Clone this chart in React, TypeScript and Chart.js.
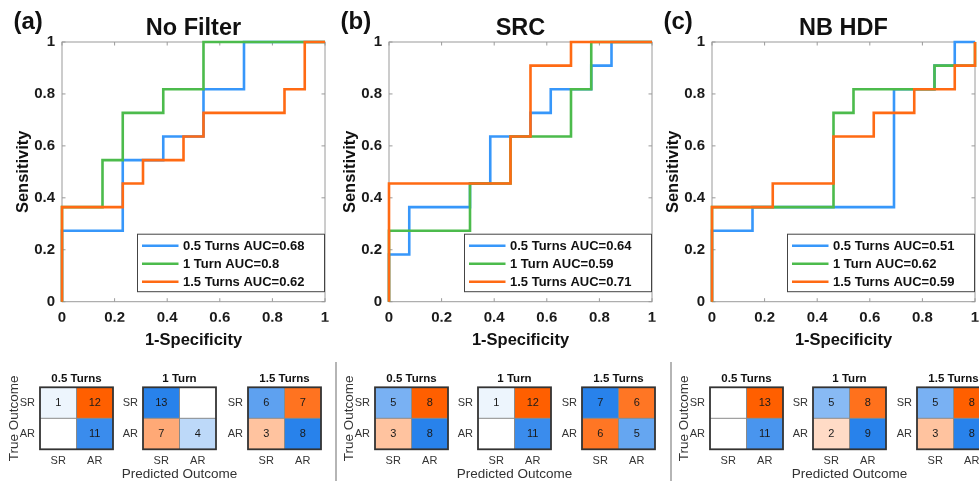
import React, { useEffect, useRef } from 'react';
import { Chart, registerables } from 'chart.js';

Chart.register(...registerables);

const FONT = '"Liberation Sans", Arial, Helvetica, sans-serif';

// ---------- labels ----------
const PANEL_TAGS = ['(a)', '(b)', '(c)'];
const PANEL_TITLES = ['No Filter', 'SRC', 'NB HDF'];
const TURN_LABELS = ['0.5 Turns', '1 Turn', '1.5 Turns'];
const X_TITLE = '1-Specificity';
const Y_TITLE = 'Sensitivity';
const AXIS_TICKS = [0, 0.2, 0.4, 0.6, 0.8, 1];
const ROW_LABELS = ['SR', 'AR'];
const COL_LABELS = ['SR', 'AR'];
const CM_Y_TITLE = 'True Outcome';
const CM_X_TITLE = 'Predicted Outcome';
const SERIES_COLORS = ['#3797FA', '#4CBB4C', '#FF6A13'];

// ---------- AUC values ----------
const aucNoFilter = [0.68, 0.8, 0.62];
const aucSRC = [0.64, 0.59, 0.71];
const aucNBHDF = [0.51, 0.62, 0.59];

// ---------- ROC curves: No Filter ----------
const nf05Fpr = [0, 0, 0.231, 0.231, 0.385, 0.385, 0.538, 0.538, 0.692, 0.692, 1];
const nf05Tpr = [0, 0.273, 0.273, 0.545, 0.545, 0.636, 0.636, 0.818, 0.818, 1, 1];
const nf1Fpr = [0, 0, 0.154, 0.154, 0.231, 0.231, 0.385, 0.385, 0.538, 0.538, 1];
const nf1Tpr = [0, 0.364, 0.364, 0.545, 0.545, 0.727, 0.727, 0.818, 0.818, 1, 1];
const nf15Fpr = [0, 0, 0.231, 0.231, 0.308, 0.308, 0.462, 0.462, 0.538, 0.538, 0.846, 0.846, 0.923, 0.923, 1];
const nf15Tpr = [0, 0.364, 0.364, 0.455, 0.455, 0.545, 0.545, 0.636, 0.636, 0.727, 0.727, 0.818, 0.818, 1, 1];

// ---------- ROC curves: SRC ----------
const src05Fpr = [0, 0, 0.077, 0.077, 0.308, 0.308, 0.385, 0.385, 0.538, 0.538, 0.615, 0.615, 0.769, 0.769, 0.846, 0.846, 1];
const src05Tpr = [0, 0.182, 0.182, 0.364, 0.364, 0.455, 0.455, 0.636, 0.636, 0.727, 0.727, 0.818, 0.818, 0.909, 0.909, 1, 1];
const src1Fpr = [0, 0, 0.308, 0.308, 0.462, 0.462, 0.692, 0.692, 0.769, 0.769, 1];
const src1Tpr = [0, 0.273, 0.273, 0.455, 0.455, 0.636, 0.636, 0.818, 0.818, 1, 1];
const src15Fpr = [0, 0, 0.462, 0.462, 0.538, 0.538, 0.692, 0.692, 1];
const src15Tpr = [0, 0.455, 0.455, 0.636, 0.636, 0.909, 0.909, 1, 1];

// ---------- ROC curves: NB HDF ----------
const nb05Fpr = [0, 0, 0.154, 0.154, 0.692, 0.692, 0.846, 0.846, 0.923, 0.923, 1];
const nb05Tpr = [0, 0.273, 0.273, 0.364, 0.364, 0.818, 0.818, 0.909, 0.909, 1, 1];
const nb1Fpr = [0, 0, 0.462, 0.462, 0.538, 0.538, 0.846, 0.846, 1, 1];
const nb1Tpr = [0, 0.364, 0.364, 0.727, 0.727, 0.818, 0.818, 0.909, 0.909, 1];
const nb15Fpr = [0, 0, 0.231, 0.231, 0.462, 0.462, 0.615, 0.615, 0.769, 0.769, 0.923, 0.923, 1, 1];
const nb15Tpr = [0, 0.364, 0.364, 0.455, 0.455, 0.636, 0.636, 0.727, 0.727, 0.818, 0.818, 0.909, 0.909, 1];

// ---------- confusion matrices [row SR, row AR] x [pred SR, pred AR] ----------
const cmNoFilter05 = [[1, 12], [0, 11]];
const cmNoFilter1 = [[13, 0], [7, 4]];
const cmNoFilter15 = [[6, 7], [3, 8]];
const cmSRC05 = [[5, 8], [3, 8]];
const cmSRC1 = [[1, 12], [0, 11]];
const cmSRC15 = [[7, 6], [6, 5]];
const cmNBHDF05 = [[0, 13], [0, 11]];
const cmNBHDF1 = [[5, 8], [2, 9]];
const cmNBHDF15 = [[5, 8], [3, 8]];

const ROC_PANELS = [
  { auc: aucNoFilter, fpr: [nf05Fpr, nf1Fpr, nf15Fpr], tpr: [nf05Tpr, nf1Tpr, nf15Tpr] },
  { auc: aucSRC, fpr: [src05Fpr, src1Fpr, src15Fpr], tpr: [src05Tpr, src1Tpr, src15Tpr] },
  { auc: aucNBHDF, fpr: [nb05Fpr, nb1Fpr, nb15Fpr], tpr: [nb05Tpr, nb1Tpr, nb15Tpr] },
];
const CM_PANELS = [
  [cmNoFilter05, cmNoFilter1, cmNoFilter15],
  [cmSRC05, cmSRC1, cmSRC15],
  [cmNBHDF05, cmNBHDF1, cmNBHDF15],
];

// ---------- layout ----------
const PLOT_LEFTS = [62, 389, 712];
const PLOT_W = 263;
const ROC_CANVAS_W = 345;
const ROC_CANVAS_H = 360;
const CM_BOX_LEFTS = [[40, 143, 248], [375, 478, 582], [710, 813, 917]];
const CM_W = 73;
const CM_CANVAS_W = 150;
const CM_CANVAS_H = 113;
const CM_TOP = 368;

const rocDecor = {
  id: 'rocDecor',
  beforeDatasetsDraw(chart: any) {
    const { ctx, chartArea: a, scales } = chart;
    ctx.save();
    ctx.strokeStyle = '#9a9a9a';
    ctx.lineWidth = 1;
    ctx.strokeRect(a.left, a.top, a.right - a.left, a.bottom - a.top);
    const tl = 3.5;
    ctx.beginPath();
    for (const v of AXIS_TICKS) {
      const px = scales.x.getPixelForValue(v);
      ctx.moveTo(px, a.bottom); ctx.lineTo(px, a.bottom - tl);
      ctx.moveTo(px, a.top); ctx.lineTo(px, a.top + tl);
      const py = scales.y.getPixelForValue(v);
      ctx.moveTo(a.left, py); ctx.lineTo(a.left + tl, py);
      ctx.moveTo(a.right, py); ctx.lineTo(a.right - tl, py);
    }
    ctx.stroke();
    ctx.restore();
  },
  afterDatasetsDraw(chart: any) {
    const { ctx, chartArea: a } = chart;
    const w = 188;
    const h = 58.5;
    const right = a.right;
    const bottom = a.bottom - 9.5;
    const left = right - w;
    const top = bottom - h;
    ctx.save();
    ctx.fillStyle = '#ffffff';
    ctx.fillRect(left, top, w, h);
    ctx.strokeStyle = '#444444';
    ctx.lineWidth = 1;
    ctx.strokeRect(left + 0.5, top + 0.5, w - 1, h - 1);
    chart.data.datasets.forEach((ds: any, i: number) => {
      const y = top + 12 + i * 18;
      ctx.strokeStyle = ds.borderColor;
      ctx.lineWidth = 2.6;
      ctx.beginPath();
      ctx.moveTo(left + 5, y);
      ctx.lineTo(left + 41.5, y);
      ctx.stroke();
      ctx.fillStyle = '#111111';
      ctx.font = `bold 13px ${FONT}`;
      ctx.textAlign = 'left';
      ctx.textBaseline = 'middle';
      ctx.fillText(ds.label, left + 46, y + 0.5);
    });
    ctx.restore();
  },
  afterDraw(chart: any, _args: any, opts: any) {
    const { ctx, chartArea: a } = chart;
    const cx = (a.left + a.right) / 2;
    const cy = (a.top + a.bottom) / 2;
    ctx.save();
    ctx.fillStyle = '#111111';
    ctx.textBaseline = 'alphabetic';
    ctx.font = `bold 24px ${FONT}`;
    ctx.textAlign = 'left';
    ctx.fillText(opts.tag, a.left - 48.5, 29);
    ctx.font = `bold 23.5px ${FONT}`;
    ctx.textAlign = 'center';
    ctx.fillText(opts.title, cx, 35);
    ctx.font = `bold 16.5px ${FONT}`;
    ctx.fillText(opts.xTitle, cx, 345);
    ctx.translate(a.left - 34, cy);
    ctx.rotate(-Math.PI / 2);
    ctx.fillText(opts.yTitle, 0, 0);
    ctx.restore();
  },
};

function RocPanel({ idx }: { idx: number }) {
  const ref = useRef<HTMLCanvasElement>(null);
  useEffect(() => {
    const panel = ROC_PANELS[idx];
    const tickFont = { family: FONT, size: 15, weight: 'bold' as const };
    const chart = new Chart(ref.current as HTMLCanvasElement, {
      type: 'line',
      data: {
        datasets: panel.fpr.map((fpr, i) => ({
          label: `${TURN_LABELS[i]} AUC=${panel.auc[i]}`,
          data: fpr.map((x, j) => ({ x, y: panel.tpr[i][j] })),
          borderColor: SERIES_COLORS[i],
          backgroundColor: SERIES_COLORS[i],
          borderWidth: 2.6,
          pointRadius: 0,
          tension: 0,
          fill: false,
          clip: false as any,
          order: 2 - i,
        })),
      },
      options: {
        responsive: false,
        animation: false,
        events: [],
        layout: { padding: { left: 0, top: 42, right: ROC_CANVAS_W - 62 - PLOT_W, bottom: ROC_CANVAS_H - 301.7 - 20 } },
        scales: {
          x: {
            type: 'linear',
            min: 0,
            max: 1,
            afterBuildTicks: (s: any) => { s.ticks = AXIS_TICKS.map((v) => ({ value: v })); },
            afterFit: (s: any) => { s.height = 20; },
            grid: { display: false, drawTicks: false },
            border: { display: false },
            ticks: { font: tickFont, color: '#1a1a1a', padding: 7, maxRotation: 0, autoSkip: false, callback: (v: any) => `${v}` },
          },
          y: {
            type: 'linear',
            min: 0,
            max: 1,
            afterBuildTicks: (s: any) => { s.ticks = AXIS_TICKS.map((v) => ({ value: v })); },
            afterFit: (s: any) => { s.width = 62; },
            grid: { display: false, drawTicks: false },
            border: { display: false },
            ticks: { font: tickFont, color: '#1a1a1a', padding: 7, autoSkip: false, callback: (v: any) => `${v}` },
          },
        },
        plugins: {
          legend: { display: false },
          tooltip: { enabled: false },
          rocDecor: { tag: PANEL_TAGS[idx], title: PANEL_TITLES[idx], xTitle: X_TITLE, yTitle: Y_TITLE },
        } as any,
      },
      plugins: [rocDecor],
    });
    return () => chart.destroy();
  }, [idx]);
  return (
    <canvas
      ref={ref}
      width={ROC_CANVAS_W}
      height={ROC_CANVAS_H}
      style={{ position: 'absolute', left: PLOT_LEFTS[idx] - 62, top: 0, width: ROC_CANVAS_W, height: ROC_CANVAS_H }}
    />
  );
}

const FULL_BLUE = [40, 130, 235];
const FULL_ORANGE = [255, 95, 0];
function cellColor(count: number, max: number, diag: boolean) {
  const t = max > 0 ? count / max : 0;
  const full = diag ? FULL_BLUE : FULL_ORANGE;
  const c = full.map((f) => Math.round(255 + (f - 255) * t));
  return `rgb(${c[0]},${c[1]},${c[2]})`;
}

const cmDecor = {
  id: 'cmDecor',
  afterDatasetsDraw(chart: any) {
    const { ctx, chartArea: a, scales } = chart;
    ctx.save();
    const midX = (scales.x.getPixelForTick(0) + scales.x.getPixelForTick(1)) / 2;
    const midY = scales.y.getPixelForValue(1);
    ctx.strokeStyle = '#8a8a8a';
    ctx.lineWidth = 1;
    ctx.beginPath();
    ctx.moveTo(midX, a.top); ctx.lineTo(midX, a.bottom);
    ctx.moveTo(a.left, midY); ctx.lineTo(a.right, midY);
    ctx.stroke();
    ctx.strokeStyle = '#333333';
    ctx.lineWidth = 1.8;
    ctx.strokeRect(a.left, a.top, a.right - a.left, a.bottom - a.top);
    ctx.fillStyle = '#1a1a1a';
    ctx.font = `11px ${FONT}`;
    ctx.textAlign = 'center';
    ctx.textBaseline = 'middle';
    chart.data.datasets.forEach((ds: any, di: number) => {
      const meta = chart.getDatasetMeta(di);
      meta.data.forEach((el: any, j: number) => {
        const c = ds.counts[j];
        if (c > 0) ctx.fillText(String(c), el.x, (el.y + el.base) / 2 + 0.5);
      });
    });
    ctx.restore();
  },
  afterDraw(chart: any, _args: any, opts: any) {
    const { ctx, chartArea: a } = chart;
    const cx = (a.left + a.right) / 2;
    const cy = (a.top + a.bottom) / 2;
    ctx.save();
    ctx.textAlign = 'center';
    ctx.textBaseline = 'alphabetic';
    ctx.fillStyle = '#111111';
    ctx.font = `bold 11.5px ${FONT}`;
    ctx.fillText(opts.title, cx, a.top - 5);
    ctx.fillStyle = '#333333';
    ctx.font = `13.5px ${FONT}`;
    if (opts.yTitle) {
      ctx.save();
      ctx.translate(a.left - 21.7, cy);
      ctx.rotate(-Math.PI / 2);
      ctx.fillText(opts.yTitle, 0, 0);
      ctx.restore();
    }
    if (opts.xTitle) ctx.fillText(opts.xTitle, cx, 110.3);
    ctx.restore();
  },
};

function MatrixPanel({ group, idx }: { group: number; idx: number }) {
  const ref = useRef<HTMLCanvasElement>(null);
  const boxLeft = CM_BOX_LEFTS[group][idx];
  useEffect(() => {
    const counts = CM_PANELS[group][idx];
    const max = Math.max(...counts.flat());
    const labelFont = { family: FONT, size: 11 };
    // stacked bottom -> top: AR row first, SR row on top
    const rowOrder = [1, 0];
    const chart = new Chart(ref.current as HTMLCanvasElement, {
      type: 'bar',
      data: {
        labels: COL_LABELS,
        datasets: rowOrder.map((r) => ({
          label: ROW_LABELS[r],
          data: counts[r].map(() => 1),
          counts: counts[r],
          backgroundColor: counts[r].map((c, ci) => cellColor(c, max, ci === r)),
          borderWidth: 0,
          barPercentage: 1,
          categoryPercentage: 1,
        })) as any,
      },
      options: {
        responsive: false,
        animation: false,
        events: [],
        layout: { padding: { left: 0, top: 19.3, right: CM_CANVAS_W - 40 - CM_W, bottom: 0 } },
        scales: {
          x: {
            type: 'category',
            stacked: true,
            afterFit: (s: any) => { s.height = CM_CANVAS_H - 19.3 - 62; },
            grid: { display: false, drawTicks: false },
            border: { display: false },
            ticks: { font: labelFont, color: '#333333', padding: 5, maxRotation: 0 },
          },
          y: {
            type: 'linear',
            stacked: true,
            min: 0,
            max: 2,
            afterBuildTicks: (s: any) => { s.ticks = [{ value: 0.5 }, { value: 1.5 }]; },
            afterFit: (s: any) => { s.width = 40; },
            grid: { display: false, drawTicks: false },
            border: { display: false },
            ticks: { font: labelFont, color: '#333333', padding: 5, callback: (v: any) => (v > 1 ? ROW_LABELS[0] : ROW_LABELS[1]) },
          },
        },
        plugins: {
          legend: { display: false },
          tooltip: { enabled: false },
          cmDecor: {
            title: TURN_LABELS[idx],
            yTitle: idx === 0 ? CM_Y_TITLE : '',
            xTitle: idx === 1 ? CM_X_TITLE : '',
          },
        } as any,
      },
      plugins: [cmDecor],
    });
    return () => chart.destroy();
  }, [group, idx]);
  return (
    <canvas
      ref={ref}
      width={CM_CANVAS_W}
      height={CM_CANVAS_H}
      style={{ position: 'absolute', left: boxLeft - 40, top: CM_TOP, width: CM_CANVAS_W, height: CM_CANVAS_H }}
    />
  );
}

export default function App() {
  return (
    <div
      style={{
        position: 'absolute',
        left: 0,
        top: 0,
        width: 979,
        height: 481,
        overflow: 'hidden',
        background: '#ffffff',
      }}
    >
      {[0, 1, 2].map((i) => (
        <RocPanel key={`roc${i}`} idx={i} />
      ))}
      {[0, 1, 2].map((g) =>
        [0, 1, 2].map((i) => <MatrixPanel key={`cm${g}${i}`} group={g} idx={i} />)
      )}
      {[335, 670].map((x) => (
        <div
          key={`sep${x}`}
          style={{ position: 'absolute', left: x, top: 362, width: 1.5, height: 119, background: '#b5b5b5' }}
        />
      ))}
    </div>
  );
}
